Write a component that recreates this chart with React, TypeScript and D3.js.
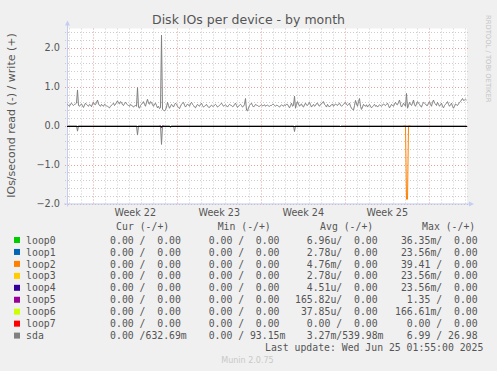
import React, { useEffect, useRef } from 'react';
import * as d3 from 'd3';

// sda writes (+), one value every 2 hours (one per pixel column)
const sdaWrite = [
  0.55, 0.52, 0.50, 0.56, 0.58, 0.54, 0.52, 0.55, 0.56, 0.58,
  0.92, 0.52, 0.50, 0.54, 0.56, 0.51, 0.47, 0.53, 0.58, 0.55,
  0.52, 0.50, 0.55, 0.53, 0.49, 0.56, 0.60, 0.55, 0.54, 0.60,
  0.66, 0.56, 0.52, 0.50, 0.55, 0.52, 0.50, 0.55, 0.53, 0.51,
  0.50, 0.48, 0.46, 0.50, 0.53, 0.55, 0.58, 0.52, 0.55, 0.60,
  0.64, 0.58, 0.56, 0.62, 0.60, 0.54, 0.52, 0.57, 0.61, 0.56,
  0.54, 0.52, 0.50, 0.55, 0.53, 0.50, 0.48, 0.51, 0.52, 0.50,
  0.98, 0.48, 0.45, 0.52, 0.55, 0.58, 0.62, 0.55, 0.50, 0.60,
  0.68, 0.58, 0.55, 0.62, 0.60, 0.54, 0.50, 0.56, 0.58, 0.52,
  0.46, 0.50, 0.44, 0.46, 2.33, 0.42, 0.40, 0.38, 0.41, 0.48,
  0.60, 0.52, 0.45, 0.50, 0.55, 0.52, 0.48, 0.54, 0.58, 0.55,
  0.50, 0.47, 0.44, 0.50, 0.55, 0.58, 0.60, 0.53, 0.48, 0.52,
  0.56, 0.53, 0.50, 0.57, 0.60, 0.55, 0.52, 0.48, 0.46, 0.51,
  0.55, 0.52, 0.50, 0.55, 0.58, 0.52, 0.48, 0.50, 0.52, 0.55,
  0.50, 0.48, 0.47, 0.51, 0.53, 0.50, 0.50, 0.53, 0.55, 0.52,
  0.48, 0.50, 0.52, 0.55, 0.58, 0.54, 0.50, 0.52, 0.54, 0.51,
  0.48, 0.52, 0.55, 0.53, 0.52, 0.49, 0.50, 0.55, 0.58, 0.52,
  0.47, 0.50, 0.53, 0.55, 0.52, 0.48, 0.50, 0.55, 0.70, 0.40,
  0.38, 0.46, 0.52, 0.55, 0.58, 0.52, 0.48, 0.51, 0.55, 0.53,
  0.52, 0.50, 0.50, 0.52, 0.54, 0.51, 0.52, 0.54, 0.50, 0.52,
  0.53, 0.51, 0.50, 0.52, 0.52, 0.55, 0.55, 0.52, 0.50, 0.53,
  0.52, 0.50, 0.48, 0.51, 0.54, 0.52, 0.50, 0.54, 0.52, 0.55,
  0.55, 0.50, 0.46, 0.52, 0.58, 0.50, 0.52, 0.76, 0.45, 0.55,
  0.62, 0.56, 0.50, 0.54, 0.56, 0.50, 0.48, 0.54, 0.58, 0.53,
  0.52, 0.56, 0.60, 0.54, 0.48, 0.52, 0.55, 0.50, 0.52, 0.57,
  0.58, 0.53, 0.50, 0.55, 0.56, 0.60, 0.62, 0.55, 0.52, 0.48,
  0.55, 0.51, 0.48, 0.52, 0.53, 0.56, 0.50, 0.53, 0.56, 0.54,
  0.52, 0.56, 0.58, 0.53, 0.50, 0.52, 0.55, 0.58, 0.60, 0.55,
  0.52, 0.55, 0.58, 0.50, 0.45, 0.42, 0.40, 0.52, 0.65, 0.56,
  0.50, 0.62, 0.70, 0.50, 0.42, 0.48, 0.55, 0.52, 0.50, 0.54,
  0.48, 0.52, 0.55, 0.50, 0.46, 0.49, 0.52, 0.55, 0.50, 0.52,
  0.48, 0.51, 0.54, 0.52, 0.50, 0.53, 0.56, 0.54, 0.52, 0.55,
  0.58, 0.52, 0.46, 0.50, 0.55, 0.52, 0.50, 0.56, 0.60, 0.55,
  0.54, 0.60, 0.66, 0.55, 0.48, 0.52, 0.58, 0.54, 0.50, 0.83,
  0.45, 0.52, 0.60, 0.55, 0.52, 0.58, 0.66, 0.54, 0.50, 0.56,
  0.62, 0.58, 0.55, 0.50, 0.48, 0.55, 0.60, 0.58, 0.56, 0.52,
  0.52, 0.58, 0.62, 0.55, 0.50, 0.60, 0.66, 0.58, 0.56, 0.52,
  0.60, 0.55, 0.50, 0.54, 0.58, 0.50, 0.46, 0.52, 0.55, 0.58,
  0.62, 0.55, 0.50, 0.54, 0.58, 0.50, 0.45, 0.50, 0.56, 0.54,
  0.52, 0.56, 0.60, 0.62, 0.66, 0.70, 0.65, 0.66, 0.68, 0.66
];

// sda reads (-), same time steps
const sdaRead = [
  0, 0, 0, 0, 0, 0, 0, 0, 0, 0,
  -0.14, 0, 0, 0, 0, 0, 0, 0, 0, 0,
  0, 0, 0, 0, 0, 0, 0, 0, 0, 0,
  0, 0, 0, 0, 0, 0, 0, 0, 0, 0,
  0, 0, 0, 0, 0, 0, 0, 0, 0, 0,
  0, 0, 0, 0, 0, 0, 0, 0, 0, 0,
  0, 0, 0, 0, 0, 0, 0, 0, 0, 0,
  -0.24, 0, 0, 0, 0, 0, 0, 0, 0, 0,
  0, 0, 0, 0, 0, 0, 0, 0, 0, 0,
  0, 0, 0, 0, -0.48, 0, 0, 0, 0, 0,
  0, 0, 0, -0.05, 0, 0, 0, 0, 0, 0,
  0, 0, 0, 0, 0, 0, 0, 0, 0, 0,
  0, 0, 0, 0, 0, 0, 0, 0, 0, 0,
  0, 0, 0, 0, 0, 0, 0, 0, 0, 0,
  0, 0, 0, 0, 0, 0, 0, 0, 0, 0,
  0, 0, 0, 0, 0, 0, 0, 0, 0, 0,
  0, 0, 0, 0, 0, 0, 0, 0, 0, 0,
  0, 0, 0, 0, 0, 0, 0, 0, 0, 0,
  0, 0, 0, 0, 0, 0, 0, 0, 0, 0,
  0, 0, 0, 0, 0, 0, 0, 0, 0, 0,
  0, 0, 0, 0, 0, 0, 0, 0, 0, 0,
  0, 0, 0, 0, 0, 0, 0, 0, 0, 0,
  0, 0, 0, 0, 0, 0, 0, -0.15, 0, 0,
  0, 0, 0, 0, 0, 0, 0, 0, 0, 0,
  0, 0, 0, 0, 0, 0, 0, 0, 0, 0,
  0, 0, 0, 0, 0, 0, 0, 0, 0, 0,
  0, 0, 0, 0, 0, 0, 0, 0, 0, 0,
  0, 0, 0, -0.02, 0, 0, 0, 0, 0, 0,
  0, 0, 0, 0, 0, 0, 0, 0, 0, 0,
  0, 0, 0, 0, 0, 0, 0, 0, 0, 0,
  0, 0, 0, 0, 0, 0, 0, 0, 0, 0,
  0, 0, 0, 0, 0, 0, 0, 0, 0, 0,
  0, 0, 0, 0, 0, 0, 0, 0, 0, 0,
  0, 0, 0, 0, 0, 0, 0, 0, 0, 0,
  0, 0, 0, 0, 0, 0, 0, 0, 0, 0,
  0, 0, 0, 0, 0, 0, 0, 0, 0, 0,
  0, 0, 0, 0, 0, 0, 0, 0, 0, 0,
  0, 0, 0, 0, 0, 0, 0, 0, 0, 0,
  0, 0, 0, 0, 0, 0, 0, 0, 0, 0,
  0, 0, 0, 0, 0, 0, 0, 0, 0, 0
];

// short windows of the loop devices that show up on the graph
const loop2Read = [0, 0, 0, -1.89, -1.89, 0, 0, 0];
const loop2From = 336;
const loop5Read = [0, 0, -0.06, 0, 0];
const loop5From = 92;

const startTime = new Date(2025, 4, 22, 19, 30);
const endTime = new Date(2025, 5, 25, 3, 30);
const stepHours = 2;

const yTicks = [-2, -1, 0, 1, 2];

const devices = ['loop0', 'loop1', 'loop2', 'loop3', 'loop4', 'loop5', 'loop6', 'loop7', 'sda'];
const deviceColors = ['#00cc00', '#0066b3', '#ff8000', '#ffcc00', '#330099', '#990099', '#ccff00', '#ff0000', '#808080'];

const curRead = ['0.00', '0.00', '0.00', '0.00', '0.00', '0.00', '0.00', '0.00', '0.00'];
const curWrite = ['0.00', '0.00', '0.00', '0.00', '0.00', '0.00', '0.00', '0.00', '632.69m'];
const minRead = ['0.00', '0.00', '0.00', '0.00', '0.00', '0.00', '0.00', '0.00', '0.00'];
const minWrite = ['0.00', '0.00', '0.00', '0.00', '0.00', '0.00', '0.00', '0.00', '93.15m'];
const avgRead = ['6.96u', '2.78u', '4.76m', '2.78u', '4.51u', '165.82u', '37.85u', '0.00', '3.27m'];
const avgWrite = ['0.00', '0.00', '0.00', '0.00', '0.00', '0.00', '0.00', '0.00', '539.98m'];
const maxRead = ['36.35m', '23.56m', '39.41', '23.56m', '23.56m', '1.35', '166.61m', '0.00', '6.99'];
const maxWrite = ['0.00', '0.00', '0.00', '0.00', '0.00', '0.00', '0.00', '0.00', '26.98'];

const headers = ['Cur (-/+)', 'Min (-/+)', 'Avg (-/+)', 'Max (-/+)'];

const fmt = (s: string) => {
  const m = s.match(/^([0-9.]+)([a-zA-Z]?)$/);
  const num = m ? m[1] : s;
  const suf = m && m[2] ? m[2] : ' ';
  return num.padStart(6, ' ') + suf;
};

const App = () => {
  const ref = useRef<SVGSVGElement | null>(null);

  useEffect(() => {
    const W = 497, H = 371;
    const left = 67, right = 467, top = 28.5, bottom = 203.5;
    const svg = d3.select(ref.current);
    svg.selectAll('*').remove();

    svg.append('rect').attr('width', W).attr('height', H).attr('fill', '#f0f0f0');
    svg.append('rect')
      .attr('x', left).attr('y', top)
      .attr('width', right - left).attr('height', bottom - top)
      .attr('fill', '#ffffff');

    const x = d3.scaleTime().domain([startTime, endTime]).range([left, right]);
    const y = d3.scaleLinear().domain([-2, 2.5]).range([bottom, top]);

    const sans = 'DejaVu Sans, sans-serif';
    const mono = 'DejaVu Sans Mono, monospace';

    // minor grid
    const g = svg.append('g');
    const minorY = d3.range(-20, 25, 2).map(v => v / 10).filter(v => !yTicks.includes(v));
    minorY.forEach(v => {
      g.append('line')
        .attr('x1', left - 2).attr('x2', right + 2)
        .attr('y1', Math.round(y(v)) + 0.5).attr('y2', Math.round(y(v)) + 0.5)
        .attr('stroke', '#cccccc').attr('stroke-dasharray', '1,2');
    });
    const days = d3.timeDay.range(startTime, endTime).filter(d => d.getDay() !== 0);
    days.forEach(d => {
      const px = Math.round(x(d)) + 0.5;
      g.append('line')
        .attr('x1', px).attr('x2', px)
        .attr('y1', top).attr('y2', bottom + 2)
        .attr('stroke', '#cccccc').attr('stroke-dasharray', '1,2');
    });

    // major grid
    yTicks.forEach(v => {
      g.append('line')
        .attr('x1', left - 2).attr('x2', right + 2)
        .attr('y1', Math.round(y(v)) + 0.5).attr('y2', Math.round(y(v)) + 0.5)
        .attr('stroke', '#e5a0a0').attr('stroke-dasharray', '1,2');
    });
    const weeks = d3.timeSunday.range(startTime, endTime);
    weeks.forEach(d => {
      const px = Math.round(x(d)) + 0.5;
      g.append('line')
        .attr('x1', px).attr('x2', px)
        .attr('y1', top).attr('y2', bottom + 2)
        .attr('stroke', '#e5a0a0').attr('stroke-dasharray', '1,2');
    });

    // y tick labels
    yTicks.forEach(v => {
      svg.append('text')
        .attr('x', 60).attr('y', y(v) + 3.5)
        .attr('text-anchor', 'end')
        .attr('font-family', sans).attr('font-size', 9.7)
        .attr('fill', '#555')
        .text(d3.format('.1f')(v));
    });

    // week labels, centred between the Sunday lines
    weeks.forEach(d => {
      const mid = d3.timeHour.offset(d, 84);
      if (mid > endTime) return;
      svg.append('text')
        .attr('x', x(mid)).attr('y', 216.2)
        .attr('text-anchor', 'middle')
        .attr('font-family', sans).attr('font-size', 9.6)
        .attr('fill', '#555')
        .text(d3.timeFormat('Week %V')(mid));
    });

    // axes with arrows
    const axisColor = '#c5cdf3';
    svg.append('line').attr('x1', left + 0.5).attr('x2', left + 0.5).attr('y1', bottom + 3).attr('y2', top - 4)
      .attr('stroke', axisColor);
    svg.append('line').attr('x1', left - 3).attr('x2', right + 3).attr('y1', bottom + 0.5).attr('y2', bottom + 0.5)
      .attr('stroke', axisColor);
    svg.append('path').attr('d', `M${left - 2},${top - 3}L${left + 3},${top - 3}L${left + 0.5},${top - 8}Z`).attr('fill', axisColor);
    svg.append('path').attr('d', `M${right + 2},${bottom - 2}L${right + 2},${bottom + 3}L${right + 7},${bottom + 0.5}Z`).attr('fill', axisColor);

    const timeAt = (i: number) => d3.timeHour.offset(startTime, i * stepHours);
    const seriesLine = (from: number) => d3.line<number>()
      .x((d, i) => x(timeAt(from + i)) + 0.5)
      .y(d => y(d));

    const plot = svg.append('g');
    plot.append('path').datum(loop5Read).attr('d', seriesLine(loop5From))
      .attr('fill', 'none').attr('stroke', deviceColors[5]).attr('stroke-width', 1);
    plot.append('path').datum(loop2Read).attr('d', seriesLine(loop2From))
      .attr('fill', 'none').attr('stroke', deviceColors[2]).attr('stroke-width', 1);
    plot.append('path').datum(sdaRead).attr('d', seriesLine(0))
      .attr('fill', 'none').attr('stroke', deviceColors[8]).attr('stroke-width', 1);
    plot.append('path').datum(sdaWrite).attr('d', seriesLine(0))
      .attr('fill', 'none').attr('stroke', deviceColors[8]).attr('stroke-width', 1);

    // zero line
    plot.append('line')
      .attr('x1', left).attr('x2', right)
      .attr('y1', Math.round(y(0)) + 0.5).attr('y2', Math.round(y(0)) + 0.5)
      .attr('stroke', '#000').attr('stroke-width', 1);

    // title and side texts
    svg.append('text')
      .attr('x', 248.5).attr('y', 23.5).attr('text-anchor', 'middle')
      .attr('font-family', sans).attr('font-size', 12.5).attr('fill', '#555')
      .text('Disk IOs per device - by month');
    svg.append('text')
      .attr('transform', 'translate(15,115.5) rotate(-90)')
      .attr('text-anchor', 'middle')
      .attr('font-family', sans).attr('font-size', 11).attr('fill', '#555')
      .text('IOs/second read (-) / write (+)');
    svg.append('text')
      .attr('transform', 'translate(485.5,15) rotate(90)')
      .attr('font-family', sans).attr('font-size', 6.8).attr('fill', '#c4c4c4')
      .text('RRDTOOL / TOBI OETIKER');

    // legend
    const colX = [98.3, 196.9, 295, 395];
    const headX = [116.1, 217.7, 320.1, 422.1];
    const lg = svg.append('g').attr('font-family', mono).attr('font-size', 9.8).attr('fill', '#555');
    headers.forEach((h, i) => {
      lg.append('text').attr('x', headX[i]).attr('y', 229.6)
        .attr('xml:space', 'preserve').style('white-space', 'pre').text(h);
    });
    const cols = [[curRead, curWrite], [minRead, minWrite], [avgRead, avgWrite], [maxRead, maxWrite]];
    devices.forEach((dev, r) => {
      const cy = 240 + r * 11.95;
      lg.append('rect').attr('x', 14).attr('y', cy - 3).attr('width', 6).attr('height', 6)
        .attr('fill', deviceColors[r]);
      lg.append('text').attr('x', 26.1).attr('y', cy + 3.6).text(dev);
      cols.forEach(([rd, wr], c) => {
        lg.append('text').attr('x', colX[c]).attr('y', cy + 3.6)
          .attr('xml:space', 'preserve').style('white-space', 'pre')
          .text(fmt(rd[r]) + '/' + fmt(wr[r]));
      });
    });
    lg.append('text').attr('x', 483.3).attr('y', 351.3).attr('text-anchor', 'end')
      .attr('xml:space', 'preserve').style('white-space', 'pre')
      .text('Last update: Wed Jun 25 01:55:00 2025');

    svg.append('text')
      .attr('x', 247.5).attr('y', 363).attr('text-anchor', 'middle')
      .attr('font-family', sans).attr('font-size', 8).attr('fill', '#c8c8c8')
      .text('Munin 2.0.75');
  }, []);

  return (
    <svg ref={ref} width={497} height={371}
      style={{ position: 'absolute', left: 0, top: 0, display: 'block' }} />
  );
};

export default App;
